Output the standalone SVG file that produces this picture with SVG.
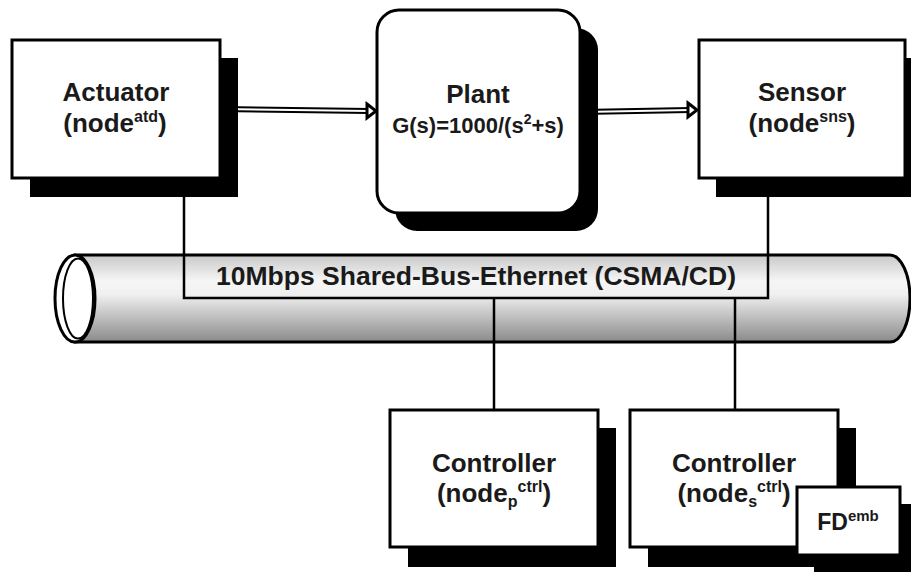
<svg xmlns="http://www.w3.org/2000/svg" width="911" height="572" viewBox="0 0 911 572">
<style>
.box{fill:#fff;stroke:#000;stroke-width:3}
.sh{fill:#000}
.t{font-family:"Liberation Sans",Arial,sans-serif;font-weight:bold;fill:#1a1a1a;text-anchor:middle}
.title{font-size:26px}
.ln{stroke:#000;stroke-width:2.5;fill:none}
</style>
<defs>
<linearGradient id="pipe" x1="0" y1="0" x2="0" y2="1">
<stop offset="0" stop-color="#c8c8c8"/>
<stop offset="0.3" stop-color="#f6f6f6"/>
<stop offset="0.45" stop-color="#f0f0f0"/>
<stop offset="1" stop-color="#8a8a8a"/>
</linearGradient>
</defs>
<rect width="911" height="572" fill="#fff"/>

<g id="bus">
<path d="M75,255 L890,255 A20,43.5 0 0 1 890,342 L75,342 Z" fill="url(#pipe)" stroke="#000" stroke-width="3"/>
<ellipse cx="75" cy="298.5" rx="20" ry="43.5" fill="#fff" stroke="#000" stroke-width="3"/>
<ellipse cx="78" cy="298.5" rx="15" ry="40" fill="#fff" stroke="#000" stroke-width="2"/>
<text class="t" x="476" y="285" font-size="25" textLength="520" lengthAdjust="spacingAndGlyphs">10Mbps Shared-Bus-Ethernet (CSMA/CD)</text>
</g>

<g id="connectors">
<path class="ln" d="M184,197 L184,298 L768,298 L768,197"/>
<line class="ln" x1="494" y1="298" x2="494" y2="410"/>
<line class="ln" x1="735" y1="298" x2="735" y2="410"/>
<path d="M220,109 L369,111" stroke="#000" stroke-width="6" fill="none"/>
<path d="M222,109 L369,111" stroke="#fff" stroke-width="2" fill="none"/>
<path d="M367,104 L376,111 L367,118 Z" fill="#fff" stroke="#000" stroke-width="3"/>
<path d="M581,112 L690,110" stroke="#000" stroke-width="6" fill="none"/>
<path d="M583,112 L690,110" stroke="#fff" stroke-width="2" fill="none"/>
<path d="M688,103 L697,110 L688,117 Z" fill="#fff" stroke="#000" stroke-width="3"/>
</g>

<g id="actuator">
<rect class="sh" x="30" y="58" width="208" height="139"/>
<rect class="box" x="12" y="40" width="208" height="138"/>
<text class="t title" x="116" y="101">Actuator</text>
<text class="t title" x="115" y="132">(node<tspan font-size="16" dy="-10">atd</tspan><tspan dy="10">)</tspan></text>
</g>

<g id="plant">
<rect class="sh" x="395" y="28" width="203" height="203" rx="22"/>
<rect class="box" x="377" y="10" width="203" height="203" rx="22"/>
<text class="t title" x="478" y="103">Plant</text>
<text class="t" x="478" y="133" font-size="22">G(s)=1000/(s<tspan font-size="14" dy="-9">2</tspan><tspan dy="9">+s)</tspan></text>
</g>

<g id="sensor">
<rect class="sh" x="716" y="58" width="208" height="139"/>
<rect class="box" x="699" y="40" width="206" height="138"/>
<text class="t title" x="802" y="101">Sensor</text>
<text class="t title" x="802" y="132">(node<tspan font-size="16" dy="-10">sns</tspan><tspan dy="10">)</tspan></text>
</g>

<g id="controller-p">
<rect class="sh" x="408" y="428" width="208" height="139"/>
<rect class="box" x="390" y="410" width="208" height="137"/>
<text class="t title" x="494" y="472">Controller</text>
<text class="t title" x="494" y="502">(node<tspan font-size="16" dy="5">p</tspan><tspan font-size="16" dy="-15">ctrl</tspan><tspan dy="10">)</tspan></text>
</g>

<g id="controller-s">
<rect class="sh" x="648" y="428" width="208" height="139"/>
<rect class="box" x="630" y="410" width="208" height="137"/>
<text class="t title" x="734" y="472">Controller</text>
<text class="t title" x="734" y="502">(node<tspan font-size="16" dy="5">s</tspan><tspan font-size="16" dy="-15">ctrl</tspan><tspan dy="10">)</tspan></text>
</g>

<g id="fd">
<rect class="sh" x="814" y="504" width="103" height="70"/>
<rect class="box" x="797" y="487" width="103" height="68"/>
<text class="t" x="848" y="530" font-size="23">FD<tspan font-size="15" dy="-9">emb</tspan></text>
</g>
</svg>
